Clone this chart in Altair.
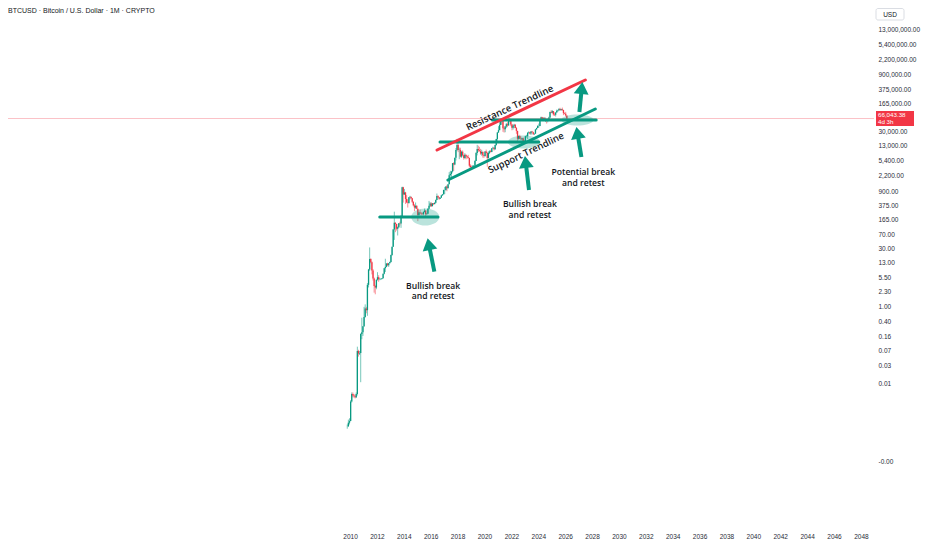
import math
import altair as alt
import pandas as pd

TITLE = "BTCUSD · Bitcoin / U.S. Dollar · 1M · CRYPTO"
GREEN = "#089981"
RED = "#F23645"
TEXT = "#131722"
AXIS_TEXT = "#2a2e39"

# ---------------- monthly candles (BTCUSD, from Oct 2009) ----------------
START_YEAR = 2009
START_MONTH = 10
FIRST_OPEN = 0.0008
CLOSE = [
    0.0008, 0.0010, 0.0011,
    0.0035, 0.0055, 0.005, 0.0048, 0.0045, 0.0055, 0.07, 0.06, 0.062, 0.19, 0.21, 0.30,
    0.52, 0.86, 0.78, 3.5, 8.7, 16.1, 13.35, 8.2, 5.1, 3.25, 2.97, 4.72,
    5.5, 4.87, 4.9, 4.95, 5.15, 6.7, 9.35, 10.15, 12.4, 11.2, 12.6, 13.5,
    20.4, 33.4, 93, 139, 129, 97, 106, 135, 133, 204, 1130, 732,
    830, 565, 460, 445, 627, 640, 585, 478, 386, 338, 378, 318,
    217, 254, 244, 236, 230, 263, 284, 230, 236, 314, 378, 430,
    368, 437, 416, 448, 531, 673, 624, 573, 609, 698, 742, 963,
    965, 1189, 1071, 1348, 2300, 2480, 2875, 4703, 4338, 6468, 10233, 13850,
    10220, 10330, 6925, 9240, 7490, 6390, 7730, 7030, 6630, 6370, 4040, 3740,
    3460, 3850, 4100, 5320, 8570, 10820, 10080, 9600, 8300, 9150, 7540, 7190,
    9350, 8530, 6410, 8630, 9450, 9140, 11330, 11650, 10780, 13780, 19700, 28990,
    33100, 45240, 58800, 57700, 37300, 35040, 41460, 47100, 43820, 61300, 57000, 46300,
    38500, 43200, 45500, 37700, 31800, 19900, 23300, 20050, 19420, 20500, 17170, 16540,
    23140, 23150, 28480, 29250, 27220, 30480, 29230, 25940, 26970, 34660, 37720, 42280,
    42580, 61200, 71300, 60650, 67500, 62700, 64600, 58950, 63300, 70200, 96400, 93400,
    102400, 84350, 82550, 94200, 104600, 107100, 115800, 108200, 114000, 109500, 90400, 87600,
    78600, 66043.38,
]
HIGH = [
    0.0009, 0.0012, 0.0013,
    0.0038, 0.006, 0.006, 0.0055, 0.0052, 0.006, 0.09, 0.075, 0.07, 0.20, 0.5, 0.30,
    0.95, 1.1, 0.95, 3.9, 9.0, 32.0, 16.9, 14.0, 8.9, 5.4, 3.5, 4.8,
    7.4, 6.2, 5.3, 5.2, 5.2, 6.8, 9.5, 16.4, 12.5, 12.9, 12.6, 13.9,
    21, 33.5, 95, 266, 140, 129, 111, 135, 147, 220, 1165, 1160,
    1020, 860, 710, 550, 630, 680, 640, 600, 490, 415, 458, 385,
    318, 266, 300, 261, 248, 268, 320, 285, 246, 330, 503, 468,
    465, 444, 440, 467, 549, 780, 704, 627, 618, 720, 755, 975,
    1150, 1200, 1300, 1350, 2760, 3000, 2960, 4740, 4980, 6470, 11500, 19800,
    17200, 11800, 11700, 9800, 9990, 7760, 8490, 7760, 7410, 7680, 6550, 4400,
    4100, 4200, 4140, 5620, 9080, 13880, 13200, 12340, 10950, 10370, 9510, 7750,
    9580, 10500, 9180, 9460, 10080, 10400, 11440, 12480, 12070, 14100, 19900, 29300,
    41950, 58350, 61800, 64900, 59600, 41300, 42400, 50500, 52900, 67000, 69000, 59100,
    47900, 45850, 48200, 47400, 40000, 31900, 24600, 25200, 22800, 21000, 21500, 18400,
    23950, 25250, 29200, 31000, 29850, 31400, 31800, 30200, 27500, 35000, 38400, 44700,
    48970, 64000, 73800, 72800, 72000, 72000, 70000, 65600, 66500, 73600, 99600, 108300,
    109350, 102500, 95000, 95700, 112000, 110500, 123200, 124500, 117900, 126200, 111200, 94600,
    97900, 79000,
]
LOW = [
    0.0007, 0.0008, 0.0009,
    0.0011, 0.0033, 0.0045, 0.0044, 0.0042, 0.0043, 0.005, 0.05, 0.055, 0.011, 0.14, 0.17,
    0.29, 0.5, 0.65, 0.56, 3.0, 8.0, 12.5, 6.5, 4.5, 2.2, 2.0, 2.7,
    4.5, 4.2, 4.6, 4.7, 4.85, 5.1, 6.5, 7.5, 9.9, 10.6, 10.1, 12.5,
    13.2, 19.5, 33, 50, 79, 87, 65, 101, 118, 102, 200, 455,
    730, 420, 440, 340, 425, 545, 565, 445, 365, 275, 314, 306,
    152, 207, 235, 215, 227, 215, 253, 198, 225, 235, 305, 350,
    355, 365, 396, 412, 438, 528, 600, 533, 566, 606, 681, 739,
    751, 920, 892, 1060, 1350, 2100, 1830, 2700, 2970, 4160, 5500, 9700,
    9000, 5950, 6600, 6430, 7030, 5780, 6070, 5880, 6110, 6200, 3650, 3130,
    3400, 3370, 3730, 4080, 5330, 7450, 9070, 9320, 7730, 7300, 6520, 6440,
    6860, 8450, 3800, 6150, 8100, 8900, 8970, 10990, 9880, 10400, 13200, 17600,
    28100, 33000, 45000, 47000, 30000, 28800, 29300, 37330, 39600, 43300, 53200, 42000,
    32900, 34300, 37200, 37600, 26700, 17600, 18800, 19600, 18150, 18200, 15500, 16300,
    16500, 21400, 19550, 26950, 25800, 24800, 28850, 25150, 24900, 26550, 34100, 37600,
    38550, 41900, 59100, 59600, 56500, 58400, 53500, 49000, 52600, 58900, 66800, 90500,
    89200, 78200, 76600, 74400, 93300, 98200, 105100, 107300, 107300, 103500, 80600, 84400,
    74500, 60000,
]

CURRENT_PRICE = 66043.38
CURRENT_LABEL = "66,043.38"
COUNTDOWN = "4d 3h"

Y_TICKS = [13000000, 5400000, 2200000, 900000, 375000, 165000, 30000, 13000, 5400,
           2200, 900, 375, 165, 70, 30, 13, 5.5, 2.3, 1, 0.4, 0.16, 0.07, 0.03, 0.01, 0.0001]
X_TICKS = list(range(2010, 2050, 2))

# ---------------- drawings (decimal year, price) ----------------
LEVEL_X1 = [2012.21, 2016.69, 2020.59]
LEVEL_X2 = [2016.54, 2024.04, 2028.31]
LEVEL_Y = [194, 16440, 60420]

TREND_X1 = [2016.47, 2017.28]
TREND_Y1 = [10240, 1734]
TREND_X2 = [2027.50, 2028.24]
TREND_Y2 = [645600, 115900]
TREND_COLORS = [RED, GREEN]

ELL_X = [2015.59, 2022.94, 2026.91]
ELL_Y = [194, 16440, 60420]
ELL_W = [28, 32, 32]
ELL_H = [17, 13, 11]

ARROW_TAIL_X = [2016.27, 2023.31, 2027.21, 2027.06]
ARROW_TAIL_Y = [7.62, 959, 6768, 97000]
ARROW_TIP_X = [2015.77, 2023.01, 2026.84, 2027.28]
ARROW_TIP_Y = [55, 7180, 39960, 573000]

NOTE_TEXT = ["Bullish break", "and retest", "Bullish break", "and retest",
             "Potential break", "and retest"]
NOTE_X = [2016.18, 2016.18, 2023.38, 2023.38, 2027.35, 2027.35]
NOTE_Y = [3.365, 1.755, 431.5, 225, 2868, 1495]

TREND_TEXT = ["Resistance Trendline", "Support Trendline"]
TREND_TEXT_X = [2021.88, 2023.09]
TREND_TEXT_Y = [123000, 8570]
TREND_TEXT_ANGLE = [335, 334.5]

# ---------------- layout ----------------
W, H = 866, 518
X_DOMAIN = [1984.926, 2048.603]
Y_DOMAIN = [2.21e-6, 4.58e7]
HEAD_LEN = 12
FONT = "Open Sans"

# candles table
opens = [FIRST_OPEN] + CLOSE[:-1]
times = []
for i in range(len(CLOSE)):
    m = START_MONTH - 1 + i
    times.append(START_YEAR + m // 12 + (m % 12) / 12 + 1 / 24)
candles = pd.DataFrame({"t": times, "o": opens, "h": HIGH, "l": LOW, "c": CLOSE})

x_scale = alt.Scale(domain=X_DOMAIN, nice=False, zero=False)
y_scale = alt.Scale(type="log", domain=Y_DOMAIN, nice=False)

x_axis = alt.Axis(values=X_TICKS, format="d", grid=False, domain=False, ticks=False,
                  labelFontSize=6.5, labelColor=AXIS_TEXT, labelPadding=7, labelFont="Liberation Sans",
                  labelOverlap=False, labelFlush=False, title=None)
y_axis = alt.Axis(orient="right", values=Y_TICKS, grid=False, domain=False, ticks=False,
                  labelExpr="datum.value < 0.001 ? '-0.00' : format(datum.value, ',.2f')",
                  labelFontSize=6.5, labelColor=AXIS_TEXT, labelPadding=4, labelFont="Liberation Sans",
                  labelOverlap=False, labelFlush=False, title=None)

up_cond = alt.condition("datum.c >= datum.o", alt.value(GREEN), alt.value(RED))

wicks = alt.Chart(candles).mark_rule(strokeWidth=1, opacity=0.55).encode(
    x=alt.X("t:Q", scale=x_scale, axis=x_axis, title=None),
    y=alt.Y("l:Q", scale=y_scale, axis=y_axis, title=None),
    y2="h:Q",
    color=up_cond,
)
bodies = alt.Chart(candles).mark_bar(size=1.3).encode(
    x=alt.X("t:Q", title=None), y=alt.Y("o:Q", title=None), y2="c:Q", color=up_cond
)

price_line = alt.Chart(pd.DataFrame({"p": [CURRENT_PRICE]})).mark_rule(
    color=RED, opacity=0.3, strokeWidth=1
).encode(y=alt.Y("p:Q", title=None))

# straight drawings (levels + trendlines)
seg = pd.DataFrame({
    "x1": LEVEL_X1 + TREND_X1,
    "x2": LEVEL_X2 + TREND_X2,
    "y1": LEVEL_Y + TREND_Y1,
    "y2": LEVEL_Y + TREND_Y2,
    "col": [GREEN] * len(LEVEL_X1) + TREND_COLORS,
})
segments = alt.Chart(seg).mark_rule(strokeWidth=3, strokeCap="round").encode(
    x=alt.X("x1:Q", title=None), x2="x2:Q", y=alt.Y("y1:Q", title=None), y2="y2:Q",
    color=alt.Color("col:N", scale=None),
)

# ellipses
def ellipse_path(w, h, n=36):
    r = h / w
    pts = []
    for k in range(n):
        a = 2 * math.pi * k / n
        pts.append(f"{math.cos(a):.4f},{r * math.sin(a):.4f}")
    return "M" + " L".join(pts) + " Z"

ell = pd.DataFrame({
    "x": ELL_X, "y": ELL_Y,
    "shape": [ellipse_path(w, h) for w, h in zip(ELL_W, ELL_H)],
    "size": [w * w for w in ELL_W],
})
ellipses = alt.Chart(ell).mark_point(filled=True, color=GREEN, opacity=0.28, strokeWidth=0).encode(
    x=alt.X("x:Q", title=None), y=alt.Y("y:Q", title=None),
    shape=alt.Shape("shape:N", scale=None), size=alt.Size("size:Q", scale=None),
)

# arrows
ppy = W / (X_DOMAIN[1] - X_DOMAIN[0])
ppd = H / (math.log10(Y_DOMAIN[1]) - math.log10(Y_DOMAIN[0]))
rows = []
for tx, ty, hx, hy in zip(ARROW_TAIL_X, ARROW_TAIL_Y, ARROW_TIP_X, ARROW_TIP_Y):
    dx = (hx - tx) * ppy
    dy = -(math.log10(hy) - math.log10(ty)) * ppd
    L = math.hypot(dx, dy)
    ang = math.degrees(math.atan2(dx, -dy)) % 360
    f = (L - HEAD_LEN + 2) / L
    nx = tx + f * (hx - tx)
    ny = 10 ** (math.log10(ty) + f * (math.log10(hy) - math.log10(ty)))
    rows.append({"tx": tx, "ty": ty, "nx": nx, "ny": ny, "hx": hx, "hy": hy, "ang": ang})
arr = pd.DataFrame(rows)
shafts = alt.Chart(arr).mark_rule(strokeWidth=4, color=GREEN).encode(
    x=alt.X("tx:Q", title=None), x2="nx:Q", y=alt.Y("ty:Q", title=None), y2="ny:Q"
)
heads = alt.Chart(arr).mark_point(
    shape="M0,0 L0.62,1 L-0.62,1 Z", filled=True, color=GREEN, opacity=1,
    size=4 * HEAD_LEN * HEAD_LEN, strokeWidth=0,
).encode(x=alt.X("hx:Q", title=None), y=alt.Y("hy:Q", title=None), angle=alt.Angle("ang:Q", scale=None))

# annotation texts
notes = alt.Chart(pd.DataFrame({"x": NOTE_X, "y": NOTE_Y, "txt": NOTE_TEXT})).mark_text(
    font=FONT, fontSize=8.6, fontWeight=600, color=TEXT, align="center", baseline="middle"
).encode(x=alt.X("x:Q", title=None), y=alt.Y("y:Q", title=None), text="txt:N")

trend_notes = alt.Chart(pd.DataFrame({
    "x": TREND_TEXT_X, "y": TREND_TEXT_Y, "txt": TREND_TEXT, "a": TREND_TEXT_ANGLE
})).mark_text(
    font=FONT, fontSize=9.5, fontWeight=600, color=TEXT, align="center", baseline="middle"
).encode(x=alt.X("x:Q", title=None), y=alt.Y("y:Q", title=None), text="txt:N",
         angle=alt.Angle("a:Q", scale=None))

# price tag on the right scale
tag_df = pd.DataFrame({"p": [CURRENT_PRICE], "lab": [CURRENT_LABEL], "cd": [COUNTDOWN]})
tag_box = alt.Chart(tag_df).mark_point(
    shape="M-1,-0.4 L1,-0.4 L1,0.4 L-1,0.4 Z", filled=True, color=RED, opacity=1,
    size=38 * 38, strokeWidth=0,
).encode(x=alt.value(W + 21), y=alt.Y("p:Q", title=None))
tag_price = alt.Chart(tag_df).mark_text(
    font="Liberation Sans", fontSize=6.2, color="white", align="left", baseline="middle", dy=-3.3
).encode(x=alt.value(W + 4), y=alt.Y("p:Q", title=None), text="lab:N")
tag_cd = alt.Chart(tag_df).mark_text(
    font="Liberation Sans", fontSize=6.2, color="white", align="left", baseline="middle", dy=3.8
).encode(x=alt.value(W + 4), y=alt.Y("p:Q", title=None), text="cd:N")

# header texts
hdr = pd.DataFrame({"t": [TITLE], "u": ["USD"]})
title_text = alt.Chart(hdr).mark_text(
    font="Liberation Sans", fontSize=7, color=TEXT, align="left", baseline="middle"
).encode(x=alt.value(0), y=alt.value(3), text="t:N")
usd_box = alt.Chart(hdr).mark_rect(
    fill="white", stroke="#d1d4dc", strokeWidth=0.8, cornerRadius=2
).encode(x=alt.value(W + 2), x2=alt.value(W + 30), y=alt.value(0.5), y2=alt.value(12))
usd_text = alt.Chart(hdr).mark_text(
    font="Liberation Sans", fontSize=6.5, color=TEXT, align="center", baseline="middle"
).encode(x=alt.value(W + 16), y=alt.value(6.5), text="u:N")

chart = alt.layer(
    wicks, bodies, price_line, ellipses, segments, shafts, heads, notes, trend_notes,
    tag_box, tag_price, tag_cd, title_text, usd_box, usd_text,
).properties(
    width=W, height=H,
    padding={"left": 0, "top": 0, "right": 50, "bottom": 16},
    autosize=alt.AutoSizeParams(type="none"),
    background="white",
).configure_view(stroke=None)

chart.save("out.html", embed_options={"renderer": "svg", "actions": False})
